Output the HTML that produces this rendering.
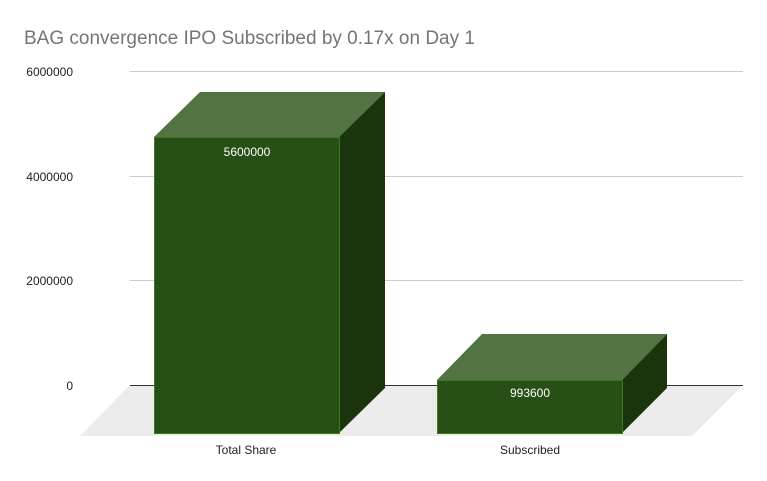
<!DOCTYPE html>
<html><head><style>body{margin:0;background:#fff}svg{display:block}</style></head><body>
<svg width="767" height="481" viewBox="0 0 767 481" font-family="Liberation Sans, sans-serif">
<rect width="767" height="481" fill="#fff"/>
<text x="24" y="44" font-size="19" fill="#757575">BAG convergence IPO Subscribed by 0.17x on Day 1</text>
<polygon points="130,385 743,385 692,436 80,436" fill="#ececec"/>
<g stroke="#cccccc" stroke-width="1">
<line x1="130" y1="71.5" x2="743" y2="71.5"/>
<line x1="130" y1="176.5" x2="743" y2="176.5"/>
<line x1="130" y1="280.5" x2="743" y2="280.5"/>
</g>
<line x1="130" y1="385.5" x2="743" y2="385.5" stroke="#333" stroke-width="1"/>
<g font-size="12" fill="#222" text-anchor="end">
<text x="73" y="76">6000000</text>
<text x="73" y="181">4000000</text>
<text x="73" y="285">2000000</text>
<text x="73" y="390">0</text>
</g>
<polygon points="154,137 200,92 385,92 339,137" fill="#527443"/>
<polygon points="339,137 385,92 385,388 339,433" fill="#1a350c"/>
<rect x="154.5" y="137.5" width="185" height="296" fill="#284f15" stroke="#3a7a1f" stroke-width="1"/>
<polygon points="437,380 482,334 667,334 622,380" fill="#527443"/>
<polygon points="622,380 667,334 667,388 622,433" fill="#1a350c"/>
<rect x="437.5" y="380.5" width="185" height="53" fill="#284f15" stroke="#3a7a1f" stroke-width="1"/>
<g font-size="12" fill="#fff" text-anchor="middle">
<text x="247" y="156">5600000</text>
<text x="530" y="397">993600</text>
</g>
<g font-size="12" fill="#222" text-anchor="middle">
<text x="246" y="454">Total Share</text>
<text x="530" y="454">Subscribed</text>
</g>
</svg>
</body></html>
